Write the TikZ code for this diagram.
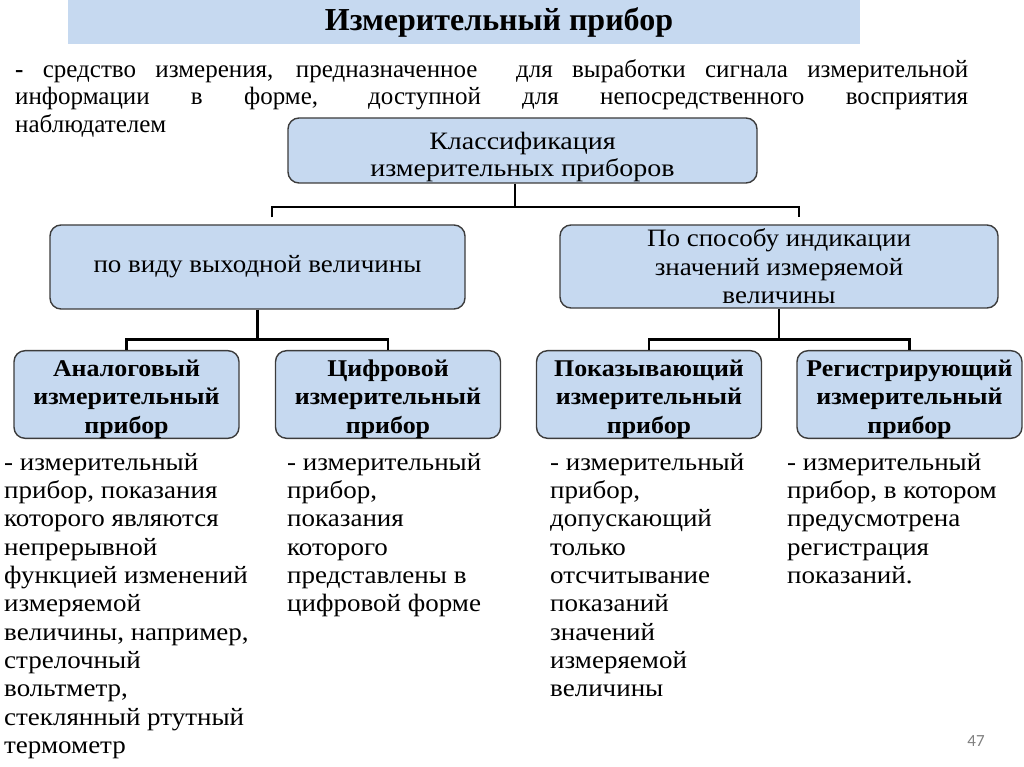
\documentclass[tikz,border=0pt]{standalone}
\usepackage{fontspec}
\setmainfont{Liberation Serif}
\newfontfamily\bodyfont{Liberation Serif}[FakeStretch=1.08]
\newfontfamily\headfont{Liberation Serif}[FakeStretch=1.12]
\newfontfamily\numfont{Carlito}
\usetikzlibrary{positioning}

\definecolor{boxblue}{RGB}{198,217,240}
\definecolor{boxline}{RGB}{60,60,60}

\newcommand{\raisetop}[1]{\rule{0pt}{#1}}
\newcommand{\typelabel}[3]{\raisetop{25.5pt}#1\\#2\\#3}

\begin{document}
\begin{tikzpicture}[x=1pt, y=-1pt,
    box/.style={draw=boxline, line width=1.4pt, fill=boxblue, rounded corners=11pt, align=center, inner sep=0pt},
    typebox/.style={box, minimum width=225pt, minimum height=85pt, font=\fontsize{24}{28.5}\bodyfont\bfseries},
    desc/.style={anchor=north west, align=left, inner sep=0pt, font=\fontsize{25}{28.3}\bodyfont},
    conn/.style={line width=2.6pt}]
    \useasboundingbox (0,0) rectangle (1024,767);

    % Title and definition
    \node[fill=boxblue, minimum width=792pt, minimum height=44pt, inner sep=0pt] (banner) at (464,22) {};
    \node[font=\fontsize{32}{34}\selectfont\bfseries, inner sep=0pt] (title) at (499,22) {Измерительный прибор};
    \node[anchor=north west, inner sep=0pt, align=left, font=\fontsize{25}{27.5}\selectfont] (def) at (15,59)
        {\makebox[953pt][s]{\textbf{-} средство измерения, предназначенное\ \ для выработки сигнала измерительной}\\
         \makebox[953pt][s]{информации в форме, доступной для непосредственного восприятия}\\
         наблюдателем};

    % Classification levels
    \node[box, minimum width=469pt, minimum height=65pt, font=\fontsize{25}{27}\headfont] (cls) at (522.5,150.5) {\raisetop{30pt}Классификация\\измерительных приборов};
    \node[box, minimum width=415pt, minimum height=84pt, font=\fontsize{25}{28.5}\bodyfont] (kind) at (257.5,267) {по виду выходной величины};
    \node[box, minimum width=438pt, minimum height=83pt, font=\fontsize{25}{28.5}\bodyfont] (ind) at (779,266.5) {По способу индикации\\значений измеряемой\\величины};

    \node[typebox] (analog) at (126.5,394.5) {\typelabel{Аналоговый}{измерительный}{прибор}};
    \node[typebox] (digit) at (388,394.5) {\typelabel{Цифровой}{измерительный}{прибор}};
    \node[typebox] (show) at (649,394.5) {\typelabel{Показывающий}{измерительный}{прибор}};
    \node[typebox] (reg) at (909.5,394.5) {\typelabel{Регистрирующий}{измерительный}{прибор}};

    % Connectors
    \coordinate (j1) at (515,207);
    \draw[conn] (cls.south -| j1) -- (j1);
    \draw[conn, shorten <=7pt, shorten >=7pt] ([xshift=14.5pt]kind.north) |- (j1) -| ([xshift=20pt]ind.north);
    \draw[conn] (kind.south) -- ++(0,30) coordinate (j2);
    \draw[conn] (analog.north) |- (j2) -| (digit.north);
    \draw[conn] (ind.south) -- ++(0,30.5) coordinate (j3);
    \draw[conn] (show.north) |- (j3) -| (reg.north);

    % Descriptions
    \node[desc] (analogtxt) at (4,453) {- измерительный\\прибор, показания\\которого являются\\непрерывной\\функцией изменений\\измеряемой\\величины, например,\\стрелочный\\вольтметр,\\стеклянный ртутный\\термометр};
    \node[desc] (digittxt) at (287,453) {- измерительный\\прибор,\\показания\\которого\\представлены в\\цифровой форме};
    \node[desc] (showtxt) at (550,453) {- измерительный\\прибор,\\допускающий\\только\\отсчитывание\\показаний\\значений\\измеряемой\\величины};
    \node[desc] (regtxt) at (787,453) {- измерительный\\прибор, в котором\\предусмотрена\\регистрация\\показаний.};

    \node[font=\fontsize{17}{17}\numfont, text=gray] (page) at (976,741) {47};
\end{tikzpicture}
\end{document}
